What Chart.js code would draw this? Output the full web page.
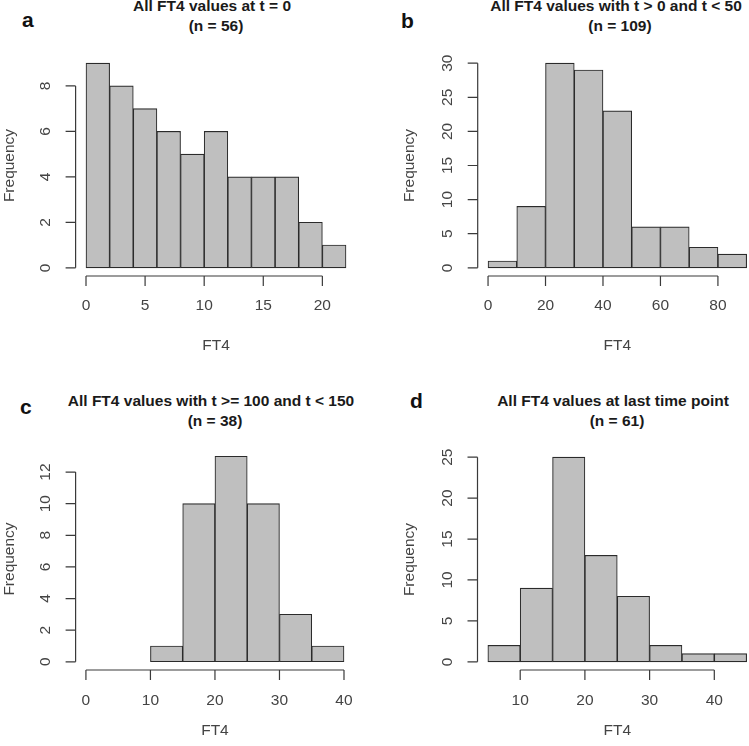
<!DOCTYPE html>
<html>
<head>
<meta charset="utf-8">
<script src="https://cdn.jsdelivr.net/npm/chart.js@4.4.1/dist/chart.umd.min.js"></script>
<style>
  html, body { margin: 0; padding: 0; background: #fff; }
  body { position: relative; width: 749px; height: 746px; overflow: hidden; }
  canvas { position: absolute; }
  .tag { position: absolute; font: bold 21px "Liberation Sans", Arial, sans-serif; line-height: 21px; color: #111; }
  .title { position: absolute; width: 420px; text-align: center; font: bold 15.5px "Liberation Sans", Arial, sans-serif; line-height: 19.5px; color: #1a1a1a; white-space: nowrap; }
  .title .l1 { padding-right: 8px; }
</style>
</head>
<body>
<div class="tag" style="left:22px;top:9px">a</div>
<div class="tag" style="left:401px;top:10px">b</div>
<div class="tag" style="left:20px;top:396px">c</div>
<div class="tag" style="left:410px;top:390px">d</div>

<div class="title" style="left:6px;top:-4px"><div class="l1">All FT4 values at t = 0</div><div>(n = 56)</div></div>
<div class="title" style="left:410px;top:-4px"><div class="l1">All FT4 values with t &gt; 0 and t &lt; 50</div><div>(n = 109)</div></div>
<div class="title" style="left:5px;top:391px"><div class="l1">All FT4 values with t &gt;= 100 and t &lt; 150</div><div>(n = 38)</div></div>
<div class="title" style="left:407px;top:391px"><div class="l1">All FT4 values at last time point</div><div>(n = 61)</div></div>

<canvas id="histA"></canvas>
<canvas id="histB"></canvas>
<canvas id="histC"></canvas>
<canvas id="histD"></canvas>

<script>
// a: all FT4 values at t = 0
const edgesA = [0, 2, 4, 6, 8, 10, 12, 14, 16, 18, 20, 22];
const countsA = [9, 8, 7, 6, 5, 6, 4, 4, 4, 2, 1];
const xRangeA = [0, 22];
const xTicksA = [0, 5, 10, 15, 20];
const yTicksA = [0, 2, 4, 6, 8];

// b: t > 0 and t < 50
const edgesB = [0, 10, 20, 30, 40, 50, 60, 70, 80, 90];
const countsB = [1, 9, 30, 29, 23, 6, 6, 3, 2];
const xRangeB = [0, 90];
const xTicksB = [0, 20, 40, 60, 80];
const yTicksB = [0, 5, 10, 15, 20, 25, 30];

// c: t >= 100 and t < 150
const edgesC = [10, 15, 20, 25, 30, 35, 40];
const countsC = [1, 10, 13, 10, 3, 1];
const xRangeC = [0, 40];
const xTicksC = [0, 10, 20, 30, 40];
const yTicksC = [0, 2, 4, 6, 8, 10, 12];

// d: last time point
const edgesD = [5, 10, 15, 20, 25, 30, 35, 40, 45];
const countsD = [2, 9, 25, 13, 8, 2, 1, 1];
const xRangeD = [5, 45];
const xTicksD = [10, 20, 30, 40];
const yTicksD = [0, 5, 10, 15, 20, 25];

const FAMILY = "'Liberation Sans', Arial, sans-serif";
const SIZE = 15.5;
const TEXT = "#444";

// canvas box and plot region, in page pixels
const layoutA = { canvas: [0, 0, 375, 373], area: [75.6, 55, 356.4, 276], tickY: 306, xTitleY: 346, yTitleX: 9 };
const layoutB = { canvas: [375, 0, 390, 373], area: [477.7, 55, 757, 276], tickY: 306, xTitleY: 346, yTitleX: 410 };
const layoutC = { canvas: [0, 373, 375, 373], area: [75.6, 448, 356.4, 670], tickY: 701, xTitleY: 731, yTitleX: 9 };
const layoutD = { canvas: [375, 373, 390, 373], area: [477.5, 449, 757, 670], tickY: 701, xTitleY: 731, yTitleX: 410 };

const measure = document.createElement("canvas").getContext("2d");
measure.font = SIZE + "px " + FAMILY;
const widest = (vals) => Math.max(...vals.map((v) => measure.measureText(String(v)).width));

// R style detached axes: line from first to last tick, ticks pointing out
const rAxes = {
  id: "rAxes",
  afterDraw(chart) {
    const { ctx, chartArea: a, scales: { x, y } } = chart;
    const xs = x.ticks.map((t) => x.getPixelForValue(t.value));
    const ys = y.ticks.map((t) => y.getPixelForValue(t.value));
    ctx.save();
    ctx.strokeStyle = "#3a3a3a";
    ctx.lineWidth = 1.2;
    ctx.beginPath();
    ctx.moveTo(xs[0], a.bottom);
    ctx.lineTo(xs[xs.length - 1], a.bottom);
    xs.forEach((px) => { ctx.moveTo(px, a.bottom); ctx.lineTo(px, a.bottom + 10); });
    ctx.moveTo(a.left, ys[0]);
    ctx.lineTo(a.left, ys[ys.length - 1]);
    ys.forEach((py) => { ctx.moveTo(a.left, py); ctx.lineTo(a.left - 10, py); });
    ctx.stroke();
    ctx.restore();
  },
};

function histogram(id, edges, counts, xRange, xTicks, yTicks, lay) {
  const canvas = document.getElementById(id);
  const [cl, ct, cw, ch] = lay.canvas;
  const [al, at, ar, ab] = lay.area;
  canvas.width = cw;
  canvas.height = ch;
  canvas.style.left = cl + "px";
  canvas.style.top = ct + "px";

  // R pads the axis ranges by 4%
  const xPad = 0.04 * (xRange[1] - xRange[0]);
  const yMax = Math.max(...counts);
  const lh = SIZE * 1.2;

  const points = counts.map((c, i) => ({ x: (edges[i] + edges[i + 1]) / 2, y: c }));

  return new Chart(canvas, {
    type: "bar",
    data: {
      datasets: [{
        data: points,
        backgroundColor: "#bfbfbf",
        borderColor: "#2b2b2b",
        borderWidth: 1.1,
        borderSkipped: false,
        barPercentage: 1,
        categoryPercentage: 1,
      }],
    },
    options: {
      responsive: false,
      animation: false,
      events: [],
      layout: { padding: { left: 0, top: at - ct, right: cl + cw - ar, bottom: 0 } },
      plugins: { legend: { display: false }, tooltip: { enabled: false } },
      scales: {
        x: {
          type: "linear",
          offset: false,
          min: xRange[0] - xPad,
          max: xRange[1] + xPad,
          grid: { display: false, drawTicks: false },
          border: { display: false },
          afterBuildTicks: (s) => { s.ticks = xTicks.map((v) => ({ value: v })); },
          afterFit: (s) => { s.height = ct + ch - ab; },
          ticks: {
            autoSkip: false,
            maxRotation: 0,
            padding: lay.tickY - ab - lh / 2,
            color: TEXT,
            font: { family: FAMILY, size: SIZE },
          },
          title: {
            display: true,
            text: "FT4",
            color: TEXT,
            font: { family: FAMILY, size: SIZE },
            padding: { top: 0, bottom: ct + ch - lay.xTitleY - lh / 2 },
          },
        },
        y: {
          min: -0.04 * yMax,
          max: 1.04 * yMax,
          grid: { display: false, drawTicks: false },
          border: { display: false },
          afterBuildTicks: (s) => { s.ticks = yTicks.map((v) => ({ value: v })); },
          afterFit: (s) => { s.width = al - cl; },
          ticks: {
            autoSkip: false,
            minRotation: 90,
            maxRotation: 90,
            crossAlign: "center",
            padding: 29.5 - widest(yTicks) / 2,
            color: TEXT,
            font: { family: FAMILY, size: SIZE },
          },
          title: {
            display: true,
            text: "Frequency",
            color: TEXT,
            font: { family: FAMILY, size: SIZE },
            padding: { top: Math.max(0, lay.yTitleX - cl - lh / 2), bottom: 0 },
          },
        },
      },
    },
    plugins: [rAxes],
  });
}

histogram("histA", edgesA, countsA, xRangeA, xTicksA, yTicksA, layoutA);
histogram("histB", edgesB, countsB, xRangeB, xTicksB, yTicksB, layoutB);
histogram("histC", edgesC, countsC, xRangeC, xTicksC, yTicksC, layoutC);
histogram("histD", edgesD, countsD, xRangeD, xTicksD, yTicksD, layoutD);
</script>
</body>
</html>
